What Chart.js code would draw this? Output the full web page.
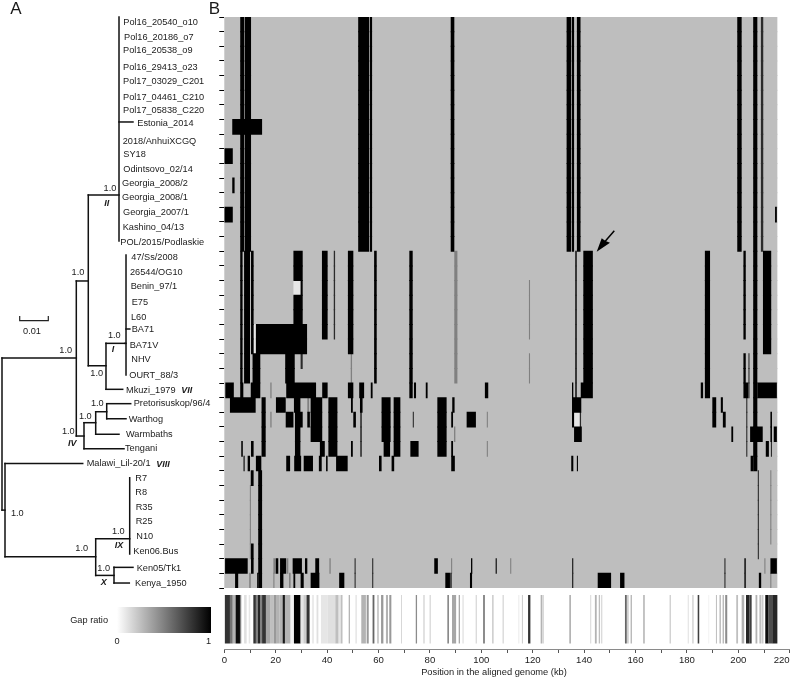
<!DOCTYPE html>
<html>
<head>
<meta charset="utf-8">
<title>Genome gap map</title>
<script src="https://cdn.jsdelivr.net/npm/chart.js@4"></script>
<style>
  html, body { margin: 0; padding: 0; background: #fff; }
  body { width: 791px; height: 679px; position: relative; overflow: hidden; }
  canvas { position: absolute; display: block; }
</style>
</head>
<body>
<canvas id="treeChart" width="225" height="590" style="left:0;top:0"></canvas>
<canvas id="heatChart" width="576" height="590" style="left:215px;top:0"></canvas>
<canvas id="stripChart" width="576" height="89" style="left:215px;top:590px"></canvas>
<canvas id="legendChart" width="160" height="50" style="left:60px;top:600px"></canvas>
<script>
const isolates = ['Pol16_20540_o10', 'Pol16_20186_o7', 'Pol16_20538_o9', 'Pol16_29413_o23', 'Pol17_03029_C201', 'Pol17_04461_C210', 'Pol17_05838_C220', 'Estonia_2014', '2018/AnhuiXCGQ', 'SY18', 'Odintsovo_02/14', 'Georgia_2008/2', 'Georgia_2008/1', 'Georgia_2007/1', 'Kashino_04/13', 'POL/2015/Podlaskie', '47/Ss/2008', '26544/OG10', 'Benin_97/1', 'E75', 'L60', 'BA71', 'BA71V', 'NHV', 'OURT_88/3', 'Mkuzi_1979', 'Pretorisuskop/96/4', 'Warthog', 'Warmbaths', 'Tengani', 'Malawi_Lil-20/1', 'R7', 'R8', 'R35', 'R25', 'N10', 'Ken06.Bus', 'Ken05/Tk1', 'Kenya_1950'];

// gap runs: first row, last row, start kb, end kb
const blackRuns = [
  [0, 15, 6.2, 7.8], [0, 15, 8.05, 10.4], [0, 15, 52.1, 56.3], [0, 15, 56.6, 57.5], [0, 15, 88.1, 89.5],
  [0, 15, 133.2, 134.9], [0, 15, 135.2, 136.1], [0, 15, 137.2, 138.6], [0, 15, 199.6, 201.3], [0, 15, 205.8, 207.4],
  [7, 7, 3.1, 14.7], [9, 9, 0, 3.3], [11, 11, 3.1, 4], [13, 13, 0, 3.3], [13, 13, 214.3, 215],
  [16, 24, 6.2, 7.1], [16, 24, 7.7, 10], [16, 22, 10.4, 11.4], [23, 24, 11, 14], [21, 22, 12.3, 32.2],
  [16, 17, 26.9, 30.5], [18, 18, 29.7, 30.5], [19, 20, 26.9, 30.5], [23, 24, 23.7, 27.4], [16, 21, 38, 40.2],
  [16, 22, 48.1, 50.2], [16, 24, 58.3, 59.3], [16, 25, 72, 73.3], [16, 24, 139.7, 143.4], [16, 25, 187, 189],
  [16, 21, 202, 202.9], [23, 24, 202, 202.9], [16, 30, 205.8, 207.4], [16, 22, 209.6, 212.8],
  [25, 25, 0.4, 3.7], [25, 25, 6.2, 7.4], [25, 25, 10.3, 14], [25, 25, 24.1, 35.7], [25, 25, 38.1, 40.2],
  [25, 25, 48.1, 50.2], [25, 25, 52.5, 54.4], [25, 25, 57, 57.7], [25, 25, 73.8, 74.6], [25, 25, 78.4, 79.1],
  [25, 25, 101.4, 102.7], [25, 25, 135.3, 135.8], [25, 25, 138.7, 143.4], [25, 25, 185.4, 186.3], [25, 25, 202, 203.9],
  [25, 25, 207.4, 215],
  [26, 26, 2.2, 12.2], [26, 29, 14.5, 16.1], [26, 26, 20.1, 23.9], [26, 26, 27.1, 29.6], [26, 28, 33.6, 38.1],
  [26, 29, 40.5, 44], [26, 26, 49.3, 50], [26, 26, 52.8, 53.8], [26, 28, 61.2, 64.7], [26, 29, 65.9, 68.5],
  [26, 29, 82.9, 86.5], [26, 26, 88.7, 89.6], [26, 26, 135.3, 138.9], [26, 27, 189.9, 191.4], [26, 26, 193.2, 194],
  [27, 27, 23.9, 26.9], [27, 27, 27.5, 30.5], [27, 27, 32.3, 33.3], [27, 27, 50.2, 51.2], [27, 27, 88.3, 89],
  [27, 27, 94.3, 97.9], [27, 27, 135.3, 136.1], [27, 27, 194, 195.1], [27, 28, 212.5, 213.1],
  [28, 29, 27.5, 29.6], [28, 28, 136.1, 139.1], [28, 28, 197.3, 198], [28, 28, 204.6, 209.5], [28, 28, 213.8, 215],
  [29, 29, 6.6, 7.2], [29, 29, 10.4, 11.4], [29, 29, 37.2, 39.1], [29, 29, 49.3, 50], [29, 29, 62, 64.5],
  [29, 29, 72.4, 75.6], [29, 29, 88.3, 89], [29, 29, 210.7, 211.9],
  [30, 30, 7.5, 7.9], [30, 30, 9.1, 10], [30, 30, 12.3, 14.4], [30, 30, 24.1, 25.6], [30, 30, 27.2, 29.9],
  [30, 30, 30.9, 34.5], [30, 30, 36.8, 37.9], [30, 30, 39.6, 40.2], [30, 30, 43.5, 48], [30, 30, 60.2, 61.2],
  [30, 30, 65.1, 66.1], [30, 30, 88.3, 89.7], [30, 30, 135, 135.8], [30, 30, 137.2, 137.6], [30, 30, 204.8, 205.8],
  [31, 31, 10.3, 11.4], [31, 38, 13.2, 14.7], [36, 37, 10.4, 11.4],
  [37, 37, 0.3, 9.1], [37, 37, 20.1, 21], [37, 37, 21.7, 24], [37, 37, 26.6, 30.2], [37, 37, 31.4, 32.3],
  [37, 37, 35.4, 36.9], [37, 37, 81.7, 83.1], [37, 37, 96, 96.5], [37, 37, 105.6, 106], [37, 37, 212.5, 215],
  [38, 38, 4.2, 5.4], [38, 38, 12.8, 13.2], [38, 38, 21.7, 23], [38, 38, 26.9, 27.6], [38, 38, 29.7, 30.9],
  [38, 38, 33.6, 37], [38, 38, 44.7, 46.7], [38, 38, 86, 87.8], [38, 38, 95.6, 96.4], [38, 38, 145.3, 150.5],
  [38, 38, 154, 155.7], [38, 38, 208, 208.9]
];
const darkRuns = [
  [0, 15, 208.8, 209.7], [23, 23, 29.7, 30.5], [16, 21, 42.6, 43.1], [16, 25, 136.5, 137.2], [23, 25, 204, 204.3],
  [26, 29, 203.1, 203.5], [27, 29, 52.9, 53.5], [27, 27, 73.4, 73.7], [27, 27, 138.4, 138.8], [31, 36, 207.6, 208],
  [29, 29, 212.7, 213.1], [37, 38, 50.7, 51.1], [37, 38, 57.6, 57.9], [37, 38, 135.3, 135.8], [37, 38, 194.6, 195],
  [37, 38, 202.3, 203], [38, 38, 87.9, 88.5]
];
const greyRuns = [
  [16, 24, 89.5, 90.7], [23, 24, 49.2, 49.7], [18, 21, 118.6, 118.9], [23, 24, 118.6, 118.9], [25, 25, 17.9, 18.4],
  [27, 27, 17.9, 18.4], [26, 26, 32.3, 33], [28, 28, 89.4, 89.9], [27, 27, 102.2, 102.5], [29, 29, 102.2, 102.5],
  [31, 35, 212.5, 212.8], [32, 36, 10, 10.3], [37, 37, 19.1, 20.1], [37, 37, 24.1, 24.9], [37, 37, 40.9, 41.4],
  [37, 37, 88.3, 88.6], [37, 37, 111.3, 111.6], [37, 37, 210.2, 210.5], [38, 38, 9.7, 10.3], [38, 38, 19.1, 19.5],
  [38, 38, 25.2, 25.8], [38, 38, 212.5, 212.8]
];
const paleRuns = [[21, 22, 11.4, 12.3], [18, 18, 26.9, 29.7], [27, 27, 136.1, 138.1]];

// strip below the map: start kb, end kb, gap ratio
const gapRuns = [
  [0, 2.2, .8], [2.2, 3.3, .55], [3.3, 4.4, .3], [4.4, 6.1, .95], [6.1, 6.6, .5], [7.7, 8.7, .12], [9.5, 10.1, .1],
  [11.3, 12.3, .8], [12.3, 13, .5], [13, 13.9, .85], [13.9, 14.7, .5], [14.7, 16.2, .8], [16.2, 17.8, .35],
  [17.8, 19.3, .25], [19.3, 20.4, .4], [20.4, 21.4, .3], [21.4, 22.7, .3], [22.7, 23.6, .9], [23.6, 25.8, .3],
  [25.8, 27.1, .05], [27.1, 29.7, 1], [29.7, 30.8, .1], [30.8, 32, .2], [32, 33.2, .8], [34.1, 34.9, .08],
  [35.9, 36.6, .12], [37.6, 40.1, .1], [40.1, 43.2, .12], [43.2, 44.5, .25], [44.5, 45.3, .1], [45.3, 46, .25],
  [48.4, 48.9, .3], [51, 51.6, .1], [53.3, 55.1, .3], [55.4, 56.2, .4], [57.7, 58.4, .6], [59.5, 60.1, .25],
  [61, 61.9, .4], [62.9, 63.7, .3], [64.2, 65, .4], [68.8, 69.1, .2], [74.5, 75, .45], [77.4, 78, .15],
  [79.9, 80.3, .2], [86.8, 87.4, .5], [88.6, 90.2, .35], [91.2, 91.7, .35], [92.7, 93.1, .15], [97.8, 98.3, .15],
  [100.7, 101.4, .5], [104.2, 104.8, .2], [108.3, 108.7, .2], [114.4, 114.8, .08], [115.8, 116.2, .2],
  [118.2, 119.1, .8], [123.1, 123.8, .3], [124, 124.4, .15], [134.3, 134.8, .4], [142.3, 142.8, .12],
  [144.2, 144.9, .3], [145.7, 146.2, .25], [146.6, 147.1, .15], [155.9, 156.6, .6], [156.8, 157.3, .25],
  [158.1, 158.6, .3], [163, 163.6, .3], [173.3, 173.7, .25], [180.3, 180.8, .1], [182.1, 182.6, .2],
  [184.2, 184.8, .75], [188.3, 188.7, .05], [191.3, 191.7, .25], [192.7, 193.2, .3], [193.9, 194.4, .3],
  [194.9, 195.7, .45], [199.2, 199.9, .25], [201.3, 202.3, .3], [203, 204.3, .85], [204.3, 205.2, .75],
  [206.7, 207.4, .3], [208.2, 209, .25], [209.2, 209.8, .2], [210.5, 211.8, .95], [211.8, 213.2, .7], [213.2, 215.2, .85]
];
const legendStops = [0, .25, .5, .75, 1];

// tree branches: x1, row1, x2, row2 (x is substitutions per site)
const treeBranches = [
  [.04091, 0, .04091, 15.3], [.04091, 7.17, .0458, 7.17], [.03017, 12.16, .04091, 12.16],
  [.04336, 16.26, .04336, 24.45], [.04301, 22.29, .04336, 22.29], [.04336, 21.31, .0447, 21.31],
  [.03636, 22.29, .04301, 22.29], [.03636, 22.29, .03636, 25.43], [.03636, 25.43, .0422, 25.43],
  [.03017, 23.82, .03636, 23.82], [.03017, 12.16, .03017, 23.82], [.02598, 18.03, .03017, 18.03],
  [.02598, 18.03, .02598, 28.62], [0, 23.29, .02598, 23.29], [0, 23.29, 0, 33.68], [0, 33.68, .00105, 33.68],
  [.00105, 30.49, .00105, 36.87], [.00105, 30.49, .02822, 30.49], [.00105, 36.87, .03276, 36.87],
  [.03276, 35.64, .03276, 38.14], [.03276, 35.64, .04465, 35.64], [.04465, 31.47, .04465, 36.68],
  [.03276, 38.14, .03916, 38.14], [.03916, 37.59, .03916, 38.66], [.03916, 37.59, .0458, 37.59], [.03916, 38.66, .04451, 38.66],
  [.02598, 28.62, .02867, 28.62], [.02867, 27.71, .02867, 29.49], [.02867, 29.49, .04266, 29.49],
  [.02867, 27.71, .03276, 27.71], [.03276, 26.96, .03276, 28.5], [.03276, 28.5, .04091, 28.5],
  [.03276, 26.96, .03661, 26.96], [.03661, 26.41, .03661, 27.44], [.03661, 26.41, .045, 26.41], [.03661, 27.44, .04336, 27.44]
];
const scaleBar = [[.00619, 20.43], [.00619, 20.74], [.01619, 20.74], [.01619, 20.43]];

// label placement in page pixels
const leafX = [123.3, 124, 123, 123, 123, 123, 123, 137.3, 122.7, 123.3, 123.3, 122, 122, 123, 122.7, 120.3, 131.3, 130, 130.7, 131.7, 131, 131.7, 129.7, 131.3, 129.3, 126, 133.7, 128.7, 126, 125, 86.7, 135.3, 135.3, 135.7, 135.7, 136.3, 133.3, 136.7, 135];
const leafY = [22.3, 37.7, 50.3, 67.3, 81, 97, 110.3, 123, 141, 154.3, 169, 183.7, 197.7, 212.7, 227.7, 242.3, 257.3, 272, 286.7, 302.7, 317.7, 329.3, 345.7, 359.7, 375.3, 390, 403.7, 419, 434, 448, 463.7, 478, 492.3, 507, 521, 536, 551, 568, 583];
const supportLabels = [[110, 188.7], [78, 272.7], [65.7, 350], [114.3, 335], [96.7, 373.7], [97.3, 403.3], [85.3, 416], [68.3, 431], [17.3, 513.7], [81.7, 548.7], [118.3, 531], [103.7, 568]];
const cladeLabels = [['II', 106.7, 204], ['I', 113, 349.7], ['VII', 186.7, 390.7], ['IV', 72.3, 444], ['VIII', 163, 464.3], ['IX', 119, 545.7], ['X', 103.7, 582.3]];

const FONT = '"Liberation Sans", Arial, sans-serif';
const BG_GREY = '#bebebe';
// bars are inflated half a pixel so rows join without seams, trim that back in kb
const TRIM_KB = .19;

function expandRuns(runs) {
  const bars = [];
  runs.forEach(run => {
    const mid = (run[2] + run[3]) / 2;
    const half = Math.max((run[3] - run[2]) / 2 - TRIM_KB, .02);
    for (let r = run[0]; r <= run[1]; r++) {
      bars.push({ y: isolates[r], x: [mid - half, mid + half] });
    }
  });
  return bars;
}

function drawText(ctx, text, x, y, font, align) {
  ctx.font = font;
  ctx.textAlign = align || 'center';
  ctx.textBaseline = 'middle';
  ctx.fillStyle = '#1a1a1a';
  ctx.fillText(text, x, y);
}

function noScalePadding(s) {
  s.paddingLeft = 0;
  s.paddingRight = 0;
  s.paddingTop = 0;
  s.paddingBottom = 0;
}

// tree
const treeDatasets = treeBranches.map(b => ({
  data: [{ x: b[0], y: b[1] }, { x: b[2], y: b[3] }],
  showLine: true, borderColor: '#111', borderWidth: 1.5, pointRadius: 0, borderCapStyle: 'square', clip: false
}));
treeDatasets.push({
  data: scaleBar.map(p => ({ x: p[0], y: p[1] })),
  showLine: true, borderColor: '#222', borderWidth: 1.2, pointRadius: 0, clip: false
});

new Chart(document.getElementById('treeChart'), {
  type: 'scatter',
  data: { datasets: treeDatasets },
  options: {
    responsive: false,
    animation: false,
    layout: { padding: { left: 2, top: 17, bottom: 2, right: 0 } },
    plugins: { legend: { display: false }, tooltip: { enabled: false } },
    scales: {
      x: { display: false, min: 0, max: .07797 },
      y: { display: false, min: 0, max: 39, reverse: true }
    }
  },
  plugins: [{
    id: 'treeText',
    afterDraw(chart) {
      const ctx = chart.ctx;
      ctx.save();
      drawText(ctx, 'A', 16, 9.5, '17px ' + FONT);
      drawText(ctx, 'B', 214.5, 9.5, '17px ' + FONT);
      isolates.forEach((name, i) => drawText(ctx, name, leafX[i], leafY[i], '9.2px ' + FONT, 'left'));
      supportLabels.forEach(p => drawText(ctx, '1.0', p[0], p[1], '9.2px ' + FONT));
      cladeLabels.forEach(c => drawText(ctx, c[0], c[1], c[2], 'italic bold 9px ' + FONT));
      drawText(ctx, '0.01', 32, 331, '9.2px ' + FONT);
      ctx.restore();
    }
  }]
});

// gap map
const barOpts = { barPercentage: 1, categoryPercentage: 1, grouped: false, inflateAmount: .5 };
new Chart(document.getElementById('heatChart'), {
  type: 'bar',
  data: {
    labels: isolates,
    datasets: [
      { data: expandRuns(blackRuns), backgroundColor: '#000', ...barOpts },
      { data: expandRuns(darkRuns), backgroundColor: '#2b2b2b', ...barOpts },
      { data: expandRuns(greyRuns), backgroundColor: '#808080', ...barOpts },
      { data: expandRuns(paleRuns), backgroundColor: '#e6e6e6', ...barOpts },
      { data: isolates.map(name => ({ y: name, x: [0, 215] })), backgroundColor: BG_GREY, ...barOpts }
    ]
  },
  options: {
    indexAxis: 'y',
    responsive: false,
    animation: false,
    layout: { padding: { left: 0, top: 17, bottom: 2, right: 1.3 } },
    plugins: { legend: { display: false }, tooltip: { enabled: false } },
    scales: {
      x: { display: false, type: 'linear', min: 0, max: 220 },
      y: {
        type: 'category',
        afterFit: s => { s.width = 9.3; },
        border: { display: false },
        grid: { offset: true, drawOnChartArea: false, tickLength: 5, tickColor: '#000', tickWidth: 1 },
        ticks: { display: false, autoSkip: false }
      }
    }
  },
  plugins: [{
    id: 'arrow',
    afterDraw(chart) {
      const ctx = chart.ctx;
      const ox = -215;
      ctx.save();
      ctx.strokeStyle = '#000';
      ctx.fillStyle = '#000';
      ctx.lineWidth = 1.5;
      ctx.beginPath();
      ctx.moveTo(614.3 + ox, 230.7);
      ctx.lineTo(605 + ox, 241.5);
      ctx.stroke();
      ctx.beginPath();
      ctx.moveTo(596.7 + ox, 251.7);
      ctx.lineTo(601.7 + ox, 238.3);
      ctx.lineTo(605.5 + ox, 241);
      ctx.lineTo(610 + ox, 242.7);
      ctx.closePath();
      ctx.fill();
      ctx.restore();
    }
  }]
});

// strip and position axis
new Chart(document.getElementById('stripChart'), {
  type: 'bar',
  data: {
    datasets: [{
      data: gapRuns.map(g => ({ y: .559, x: [g[0], g[1]] })),
      backgroundColor: gapRuns.map(g => {
        const v = Math.round(255 * (1 - g[2]));
        return 'rgb(' + v + ',' + v + ',' + v + ')';
      }),
      barThickness: 48.5,
      inflateAmount: 0
    }]
  },
  options: {
    indexAxis: 'y',
    responsive: false,
    animation: false,
    layout: { padding: { left: 0, top: 4, bottom: 0, right: 1.3 } },
    plugins: { legend: { display: false }, tooltip: { enabled: false } },
    scales: {
      y: { type: 'linear', min: 0, max: 1, afterFit: s => { s.width = 9.3; noScalePadding(s); }, grid: { display: false }, border: { display: false }, ticks: { display: false } },
      x: {
        type: 'linear',
        min: 0,
        max: 220,
        afterFit: s => { s.height = 30; noScalePadding(s); },
        border: { color: '#8a8a8a', width: 1 },
        grid: { drawOnChartArea: false, tickLength: 4, tickColor: '#555' },
        ticks: {
          stepSize: 10,
          autoSkip: false,
          maxRotation: 0,
          padding: 2,
          color: '#1a1a1a',
          font: { family: FONT, size: 9.6 },
          callback: v => {
            if (v === 220) return '220      ';
            return v % 20 === 0 ? String(v) : '';
          }
        }
      }
    }
  },
  plugins: [{
    id: 'xTitle',
    afterDraw(chart) {
      chart.ctx.save();
      drawText(chart.ctx, 'Position in the aligned genome (kb)', 494 - 215, 82, '9.3px ' + FONT);
      chart.ctx.restore();
    }
  }]
});

// gap ratio legend
new Chart(document.getElementById('legendChart'), {
  type: 'bar',
  data: {
    labels: ['Gap ratio'],
    datasets: [{
      data: [{ y: 'Gap ratio', x: [0, 1] }],
      barThickness: 26,
      backgroundColor: c => {
        const area = c.chart.chartArea;
        if (!area) return '#888';
        const g = c.chart.ctx.createLinearGradient(area.left, 0, area.right, 0);
        legendStops.forEach(s => {
          const v = Math.round(255 * (1 - s));
          g.addColorStop(s, 'rgb(' + v + ',' + v + ',' + v + ')');
        });
        return g;
      }
    }]
  },
  options: {
    indexAxis: 'y',
    responsive: false,
    animation: false,
    layout: { padding: { left: 0, top: 7, bottom: 0, right: 9 } },
    plugins: { legend: { display: false }, tooltip: { enabled: false } },
    scales: {
      y: {
        type: 'category',
        afterFit: s => { s.width = 57; noScalePadding(s); },
        grid: { display: false, drawTicks: false },
        border: { display: false },
        ticks: { padding: 9, color: '#1a1a1a', font: { family: FONT, size: 9.2 } }
      },
      x: {
        type: 'linear',
        min: 0,
        max: 1,
        afterFit: s => { s.height = 17; noScalePadding(s); },
        grid: { display: false, drawTicks: false },
        border: { display: false },
        ticks: {
          stepSize: 1,
          maxRotation: 0,
          padding: 3,
          color: '#1a1a1a',
          font: { family: FONT, size: 9.2 },
          callback: v => (v === 1 ? '1  ' : String(v))
        }
      }
    }
  }
});
</script>
</body>
</html>
